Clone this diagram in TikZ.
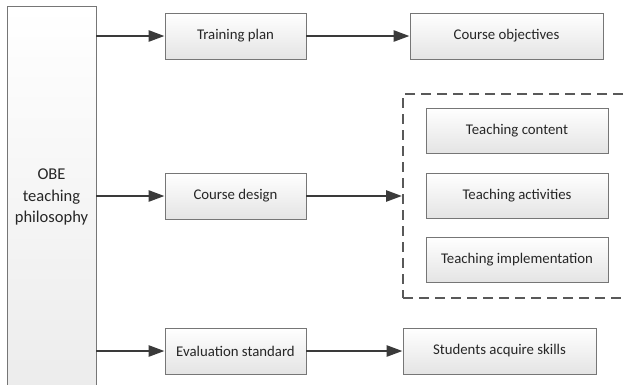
\documentclass[tikz,border=0pt]{standalone}
\usepackage{fontspec}
\setmainfont{Carlito}
\usetikzlibrary{arrows.meta}
\definecolor{boxline}{HTML}{767676}
\definecolor{boxbot}{HTML}{E4E4E4}
\definecolor{arrowcol}{HTML}{3A3A3A}
\definecolor{dashcol}{HTML}{595959}
\definecolor{txt}{HTML}{262626}
\tikzset{
  stagebox/.style={draw=boxline, line width=0.9pt, rectangle, top color=white, bottom color=boxbot,
    minimum width=141pt, minimum height=46pt, inner sep=0pt, text=txt,
    font=\fontsize{14.8}{17}\selectfont},
  wide/.style={stagebox, minimum width=193pt},
  sub/.style={stagebox, minimum width=182pt, minimum height=45pt},
  flow/.style={draw=arrowcol, line width=2.6pt, -{Triangle[length=16pt,width=11pt]}},
  group/.style={draw=dashcol, line width=2pt, dash pattern=on 10pt off 6pt, rectangle, inner sep=0pt}
}
\begin{document}
\begin{tikzpicture}[x=1pt,y=-1pt]
\useasboundingbox (0,0) rectangle (625,384);
\clip (0,0) rectangle (625,384);
\fill[white] (0,0) rectangle (625,384);
% philosophy column
\node[draw=boxline, line width=0.9pt, top color=white, bottom color=boxbot!70,
  minimum width=89pt, minimum height=382pt, inner sep=0pt, align=center, text=txt,
  font=\fontsize{16.5}{21.5}\selectfont] (obe) at (51.5,197) {OBE\\teaching\\philosophy};
% middle column
\node[stagebox] (tp) at (235.5,36) {Training plan};
\node[stagebox] (cd) at (235.5,196) {Course design};
\node[stagebox] (es) at (235.5,351) {Evaluation standard};
% right column
\node[wide] (co) at (506.5,36) {Course objectives};
\node[group, minimum width=240pt, minimum height=204pt] (grp) at (523,196) {};
\node[sub] (tc) at (517,130.5) {Teaching content};
\node[sub] (ta) at (517,195.5) {Teaching activities};
\node[sub] (ti) at (517,259.5) {Teaching implementation};
\node[wide] (sa) at (499.5,351) {Students acquire skills};
% connectors
\draw[flow] (obe.east |- tp.west) -- (tp.west);
\draw[flow] (obe.east |- cd.west) -- (cd.west);
\draw[flow] (obe.east |- es.west) -- (es.west);
\draw[flow] (tp.east) -- (co.west);
\draw[flow] (cd.east) -- (cd.east -| grp.west);
\draw[flow] (es.east) -- (sa.west);
\end{tikzpicture}
\end{document}
